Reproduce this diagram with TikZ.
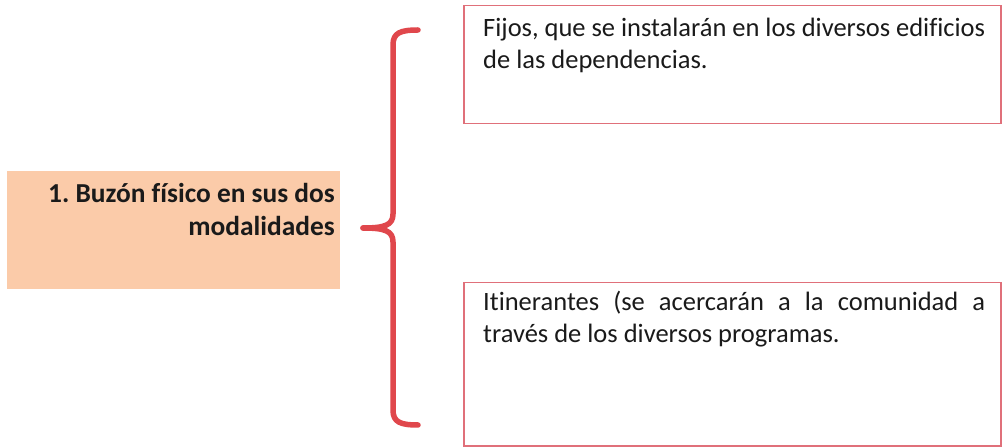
\documentclass[tikz,border=0pt]{standalone}
\usepackage{fontspec}
\setmainfont[Ligatures={NoCommon}]{Carlito}
\frenchspacing
\definecolor{peach}{HTML}{FBCBA9}
\definecolor{bracered}{HTML}{E0474C}
\definecolor{boxred}{HTML}{E0707A}
\definecolor{txt}{HTML}{1A1A1A}
\begin{document}
\begin{tikzpicture}[x=1bp,y=-1bp,
  leftbox/.style={fill=peach, draw=none, minimum width=333bp, minimum height=118bp, anchor=north west, inner sep=0pt},
  rightbox/.style={draw=boxred, line width=1.5bp, fill=white, anchor=north west, inner sep=0pt, minimum width=537bp},
  bodytext/.style={anchor=north west, inner sep=0pt, text width=502bp, font=\fontsize{26.5bp}{32bp}\selectfont, text=txt, align=justify},
  brace/.style={draw=bracered, line width=5.5bp, line cap=round, line join=round}]
\useasboundingbox (0,0) rectangle (1002,448);
% left box
\node[leftbox] (lb) at (7,171) {};
\node[anchor=north east, inner sep=0pt, align=right, text=txt,
  font=\fontsize{27.4bp}{33bp}\selectfont\bfseries] (lt) at (335,183)
  {1. Buzón físico en sus dos\\modalidades};
% right boxes
\node[rightbox, minimum height=118bp] (tb) at (463,5) {};
\node[bodytext] (tt) at (483,18) {\hyphenpenalty=10000 Fijos, que se instalarán en los diversos edificios\\de las dependencias.};
\node[rightbox, minimum height=163bp] (bb) at (463,282) {};
\node[bodytext] (bt) at (483,291) {\hyphenpenalty=10000 Itinerantes (se acercarán a la comunidad a\linebreak través de los diversos programas.};
% brace
\coordinate (ttop) at (418,30);
\coordinate (tip) at (363,228);
\coordinate (tbot) at (418,425);
\draw[brace] (ttop) .. controls (400,30) and (393,33) .. (393,45) -- (393,214)
  .. controls (393,225) and (385,228) .. (tip);
\draw[brace] (tip) .. controls (385,228) and (393,231) .. (393,242) -- (393,410)
  .. controls (393,422) and (400,425) .. (tbot);
\end{tikzpicture}
\end{document}
